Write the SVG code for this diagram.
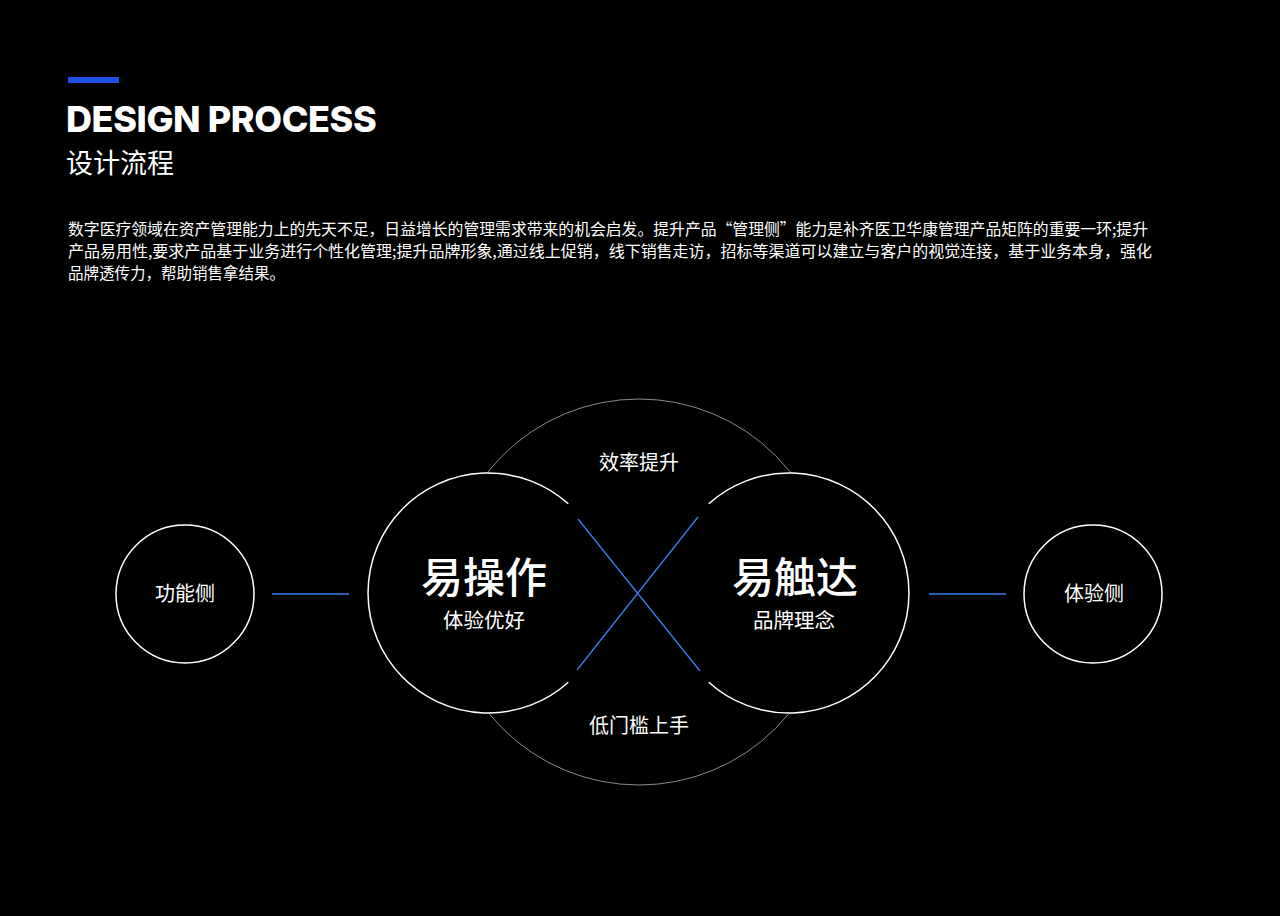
<svg xmlns="http://www.w3.org/2000/svg" width="1280" height="916" viewBox="0 0 1280 916">
<style>
.t{font-family:"Noto Sans CJK SC","Noto Sans",sans-serif;fill:#fff}
.ln{stroke:#3f7cf0;stroke-width:1.3}
.w{fill:none;stroke:#fff;stroke-width:1.5}
</style>
<rect width="1280" height="916" fill="#000"/>
<rect x="68" y="77" width="51" height="6" fill="#1d4fe0"/>
<text x="66" y="132" font-family="Inter,'Liberation Sans',sans-serif" font-weight="800" font-size="36" fill="#fff" letter-spacing="-0.4">DESIGN PROCESS</text>
<text class="t" x="66" y="173" font-size="27">设计流程</text>
<g class="t" font-size="15.5">
<text x="68" y="235" textLength="1080" lengthAdjust="spacingAndGlyphs">数字医疗领域在资产管理能力上的先天不足，日益增长的管理需求带来的机会启发。提升产品“管理侧”能力是补齐医卫华康管理产品矩阵的重要一环;提升</text>
<text x="68" y="257" textLength="1084" lengthAdjust="spacingAndGlyphs">产品易用性,要求产品基于业务进行个性化管理;提升品牌形象,通过线上促销，线下销售走访，招标等渠道可以建立与客户的视觉连接，基于业务本身，强化</text>
<text x="68" y="279">品牌透传力，帮助销售拿结果。</text>
</g>
<g id="outer"><circle cx="639" cy="592" r="193" fill="none" stroke="#8a8a8a" stroke-width="1"/>
<text class="t" x="639" y="470" font-size="20" text-anchor="middle">效率提升</text>
<text class="t" x="639" y="733" font-size="20" text-anchor="middle">低门槛上手</text></g>
<g id="left-main"><circle cx="488" cy="593" r="120" fill="#000"/>
<path class="w" d="M568.3 503.8 A120 120 0 1 0 568.3 682.2"/>
<text class="t" x="484" y="593" font-size="42" font-weight="500" text-anchor="middle">易操作</text>
<text class="t" x="484" y="628" font-size="20.5" text-anchor="middle">体验优好</text></g>
<g id="right-main"><circle cx="789" cy="593" r="120" fill="#000"/>
<path class="w" d="M708.7 503.8 A120 120 0 1 1 708.7 682.2"/>
<text class="t" x="795" y="593" font-size="42" font-weight="500" text-anchor="middle">易触达</text>
<text class="t" x="794" y="628" font-size="20.5" text-anchor="middle">品牌理念</text></g>
<g id="left-side"><circle class="w" cx="185" cy="594" r="69"/>
<text class="t" x="185" y="601" font-size="20" text-anchor="middle">功能侧</text></g>
<g id="right-side"><circle class="w" cx="1093" cy="594" r="69"/>
<text class="t" x="1094" y="601" font-size="20" text-anchor="middle">体验侧</text></g>
<g id="connectors">
<line class="ln" x1="578" y1="519" x2="700" y2="671"/>
<line class="ln" x1="698" y1="517" x2="577" y2="670"/>
<line class="ln" x1="272" y1="594" x2="349" y2="594"/>
<line class="ln" x1="929" y1="594" x2="1006" y2="594"/>
</g>
</svg>
